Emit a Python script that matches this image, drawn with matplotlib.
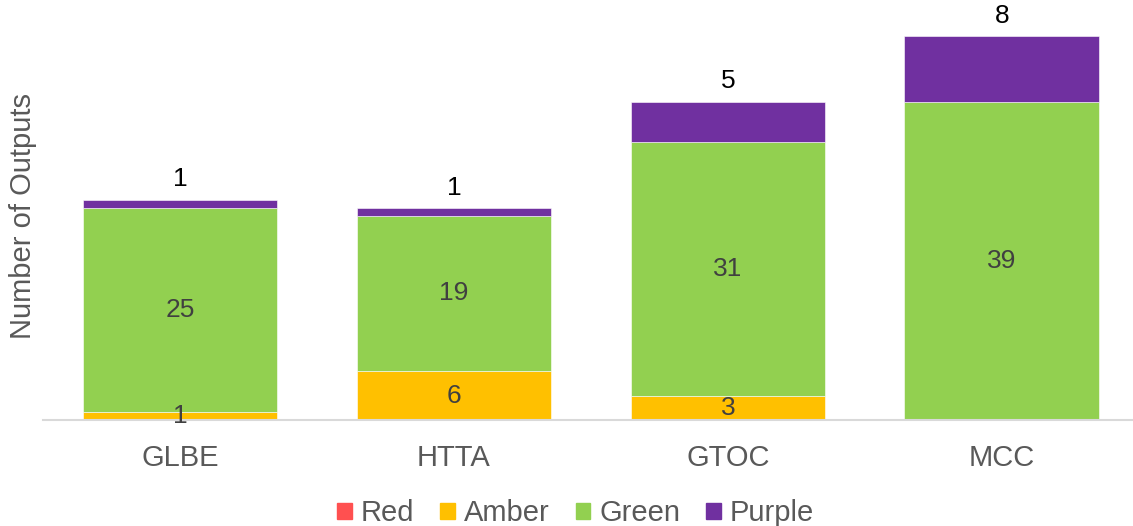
import matplotlib
import matplotlib.pyplot as plt
from matplotlib.patches import Patch
matplotlib.use('Agg')

plt.rcParams['font.family'] = ['Liberation Sans', 'DejaVu Sans']

categories = ["GLBE", "HTTA", "GTOC", "MCC"]
red = [0, 0, 0, 0]
amber = [1, 6, 3, 0]
green = [25, 19, 31, 39]
purple = [1, 1, 5, 8]

series = [("Red", red, "#ff5050"), ("Amber", amber, "#ffc000"),
          ("Green", green, "#92d050"), ("Purple", purple, "#7030a0")]


def draw():
    fig = plt.figure(figsize=(11.33, 5.26), dpi=100)
    ax = fig.add_axes([0.038, 0.2015, 0.967, 0.776])
    x = range(len(categories))
    bottom = [0] * len(categories)
    for name, vals, color in series:
        bars = ax.bar(x, vals, 0.71, bottom=bottom, color=color,
                      edgecolor="white", linewidth=0.4)
        for i, (b, v) in enumerate(zip(bars, vals)):
            if v == 0:
                continue
            if name == "Purple":
                ax.annotate(str(v), (b.get_x() + b.get_width() / 2,
                                     bottom[i] + v),
                            xytext=(0, 14.5), textcoords="offset points",
                            ha="center", va="center", fontsize=19,
                            color="black")
            else:
                ax.text(b.get_x() + b.get_width() / 2, bottom[i] + v / 2,
                        str(v), ha="center", va="center", fontsize=19,
                        color="#404040")
        bottom = [b + v for b, v in zip(bottom, vals)]

    ax.set_xlim(-0.5, 3.5)
    ax.set_ylim(0, 50)
    ax.set_xticks(list(x))
    ax.set_xticklabels(categories, fontsize=21, color="#595959")
    ax.tick_params(axis="x", length=0, pad=17)
    ax.set_yticks([])
    for s in ["top", "right", "left"]:
        ax.spines[s].set_visible(False)
    ax.spines["bottom"].set_color("#d9d9d9")
    ax.spines["bottom"].set_linewidth(1.5)
    ax.set_ylabel("Number of Outputs", fontsize=21, color="#595959",
                  labelpad=4)

    handles = [Patch(color=c, label=n) for n, _, c in series]
    fig.legend(handles=handles, loc="center", bbox_to_anchor=(0.508, 0.024),
               ncol=4, frameon=False, fontsize=21, handlelength=0.5,
               handleheight=0.5, handletextpad=0.3, columnspacing=0.9,
               labelcolor="#595959")
    fig.savefig("out.png")


if __name__ == "__main__":
    draw()
